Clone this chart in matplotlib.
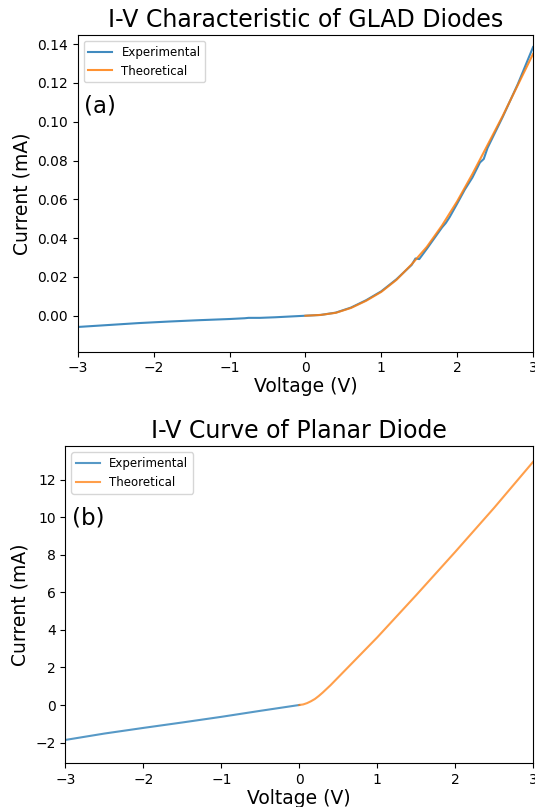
import matplotlib
matplotlib.use('Agg')
import matplotlib.pyplot as plt

# (a) GLAD diodes: experimental sweep and theoretical fit (mA)
glad_exp_v = [-3.0, -2.6, -2.2, -1.8, -1.4, -1.0, -0.8, -0.75, -0.6, -0.4, -0.2, 0.0,
              0.2, 0.4, 0.6, 0.8, 1.0, 1.2, 1.4, 1.45, 1.5, 1.6, 1.8, 1.85, 1.9, 2.0,
              2.1, 2.2, 2.3, 2.35, 2.4, 2.6, 2.8, 3.0]
glad_exp_i = [-0.0058, -0.0048, -0.0038, -0.0030, -0.0023, -0.0017, -0.0013, -0.0011,
              -0.0011, -0.0008, -0.0004, 0.0,
              0.0004, 0.0016, 0.0042, 0.0080, 0.0126, 0.0188, 0.0262, 0.0295, 0.0292,
              0.0345, 0.0455, 0.0478, 0.0508, 0.0578, 0.0650, 0.0712, 0.0790, 0.0808,
              0.0865, 0.1025, 0.1195, 0.1385]
glad_th_v = [0.0, 0.2, 0.4, 0.6, 0.8, 1.0, 1.2, 1.4, 1.6, 1.8, 2.0, 2.2, 2.4, 2.6, 2.8, 3.0]
glad_th_i = [0.0, 0.0004, 0.0015, 0.0040, 0.0077, 0.0123, 0.0185, 0.0265, 0.0355,
             0.0465, 0.0590, 0.0730, 0.0880, 0.1030, 0.1190, 0.1350]

# (b) planar diode
plan_exp_v = [-3.0, -2.5, -2.0, -1.5, -1.0, -0.5, 0.0]
plan_exp_i = [-1.86, -1.52, -1.22, -0.93, -0.63, -0.31, 0.0]
plan_th_v = [0.0, 0.05, 0.1, 0.15, 0.2, 0.25, 0.3, 0.4, 0.6, 0.8, 1.0, 1.2, 1.5,
             2.0, 2.5, 3.0]
plan_th_i = [0.0, 0.03, 0.1, 0.2, 0.32, 0.48, 0.66, 1.05, 1.9, 2.75, 3.6, 4.5, 5.85,
             8.15, 10.5, 12.95]

fig = plt.figure(figsize=(5.35, 8.07), dpi=100)

ax1 = fig.add_axes([0.1454, 0.5643, 0.851, 0.3923])
ax1.plot(glad_exp_v, glad_exp_i, label='Experimental', alpha=0.85)
ax1.plot(glad_th_v, glad_th_i, label='Theoretical', alpha=0.85)
ax1.set_xlim(-3, 3)
ax1.set_ylim(-0.0185, 0.1447)
ax1.set_title('I-V Characteristic of GLAD Diodes', fontsize=17)
ax1.set_xlabel('Voltage (V)', fontsize=13.5, labelpad=1.5)
ax1.set_ylabel('Current (mA)', fontsize=13.5)
ax1.tick_params(labelsize=10)
ax1.legend(loc='upper left', fontsize=8.5)
ax1.text(0.014, 0.776, '(a)', transform=ax1.transAxes, fontsize=16.5, va='center')

ax2 = fig.add_axes([0.1224, 0.0545, 0.874, 0.3925])
ax2.plot(plan_exp_v, plan_exp_i, label='Experimental', alpha=0.75)
ax2.plot(plan_th_v, plan_th_i, label='Theoretical', alpha=0.75)
ax2.set_xlim(-3, 3)
ax2.set_ylim(-3.09, 13.78)
ax2.set_title('I-V Curve of Planar Diode', fontsize=17)
ax2.set_xlabel('Voltage (V)', fontsize=13.5, labelpad=1.5)
ax2.set_ylabel('Current (mA)', fontsize=13.5)
ax2.tick_params(labelsize=10)
ax2.legend(loc='upper left', fontsize=8.5)
ax2.text(0.015, 0.774, '(b)', transform=ax2.transAxes, fontsize=16.5, va='center')

fig.savefig('out.png', dpi=100)
